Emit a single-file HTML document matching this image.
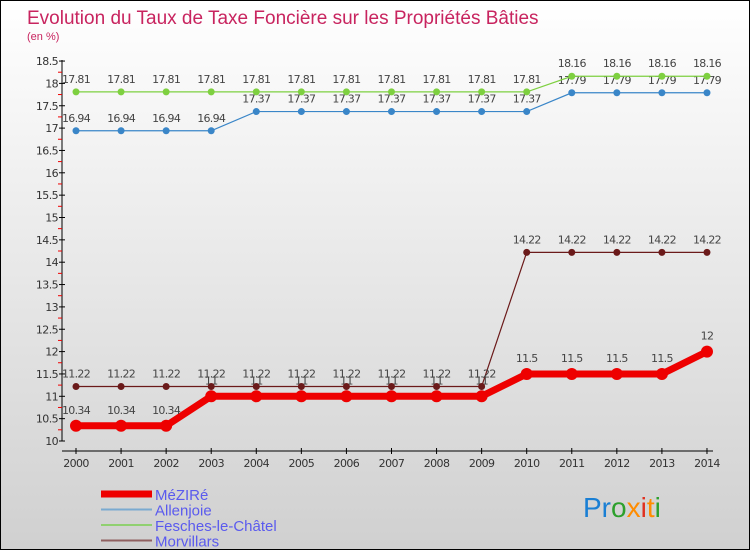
<!DOCTYPE html>
<html><head><meta charset="utf-8"><style>
body{margin:0;}
#c{width:748px;height:548px;border:1px solid #000;background:linear-gradient(#fff,#d0d0d0);position:relative;overflow:hidden;font-family:"DejaVu Sans","Liberation Sans",sans-serif;}
</style></head><body>
<div id="c">
<svg id="s" width="748" height="548">
<text x="26" y="23" font-size="19" fill="#c8245f" font-family="Liberation Sans,sans-serif">Evolution du Taux de Taxe Foncière sur les Propriétés Bâties</text>
<text x="26" y="39" font-size="11" fill="#c8245f" font-family="Liberation Sans,sans-serif">(en %)</text>
<g id="axes"></g><g id="series"></g><g id="legend"></g>
<g font-family="Liberation Sans,sans-serif" font-size="28">
<text x="582" y="516"><tspan fill="#1a7fd4">Pr</tspan><tspan fill="#2ca02c">o</tspan><tspan fill="#ff8c00">x</tspan><tspan fill="#e03020">i</tspan><tspan fill="#ff8c00">t</tspan><tspan fill="#2ca02c">i</tspan></text>
</g>
</svg>
</div>
<script>
const years=["2000","2001","2002","2003","2004","2005","2006","2007","2008","2009","2010","2011","2012","2013","2014"];
const yTicks=[10,10.5,11,11.5,12,12.5,13,13.5,14,14.5,15,15.5,16,16.5,17,17.5,18,18.5];
const mezire=[10.34,10.34,10.34,11,11,11,11,11,11,11,11.5,11.5,11.5,11.5,12];
const allenjoie=[16.94,16.94,16.94,16.94,17.37,17.37,17.37,17.37,17.37,17.37,17.37,17.79,17.79,17.79,17.79];
const fesches=[17.81,17.81,17.81,17.81,17.81,17.81,17.81,17.81,17.81,17.81,17.81,18.16,18.16,18.16,18.16];
const morvillars=[11.22,11.22,11.22,11.22,11.22,11.22,11.22,11.22,11.22,11.22,14.22,14.22,14.22,14.22,14.22];
const NS="http://www.w3.org/2000/svg";
const X=i=>75+i*45.07, Y=v=>440-(v-10)*44.7;
function mk(p,t,a){const e=document.createElementNS(NS,t);for(const k in a)e.setAttribute(k,a[k]);p.appendChild(e);return e;}
const ax=document.getElementById('axes');
const yl=mk(ax,'line',{x1:61,y1:59,x2:61,y2:440,stroke:'#000'});

const xl=mk(ax,'line',{x1:61,y1:450,x2:712,y2:450,stroke:'#000'});

yTicks.forEach(v=>{const y=Y(v);mk(ax,'line',{x1:58,y1:y,x2:64,y2:y,stroke:'#000'});
 if(v<18.5)mk(ax,'line',{x1:57,y1:y-11.2,x2:61,y2:y-11.2,stroke:'#e00'});
 const t=mk(ax,'text',{x:57,y:y+4,'font-size':11,'text-anchor':'end',fill:'#333','letter-spacing':'-0.6'});t.textContent=v;
 });
years.forEach((yr,i)=>{const x=X(i);mk(ax,'line',{x1:x,y1:447,x2:x,y2:453,stroke:'#000'});
 const t=mk(ax,'text',{x:x,y:466,'font-size':11,'text-anchor':'middle',fill:'#333','letter-spacing':'-0.6'});t.textContent=yr;
 });
const sg=document.getElementById('series');
function draw(name,data,color,lw,r,labelDy){
 const g=mk(sg,'g',{});
 mk(g,'polyline',{points:data.map((v,i)=>X(i)+','+Y(v)).join(' '),fill:'none',stroke:color,'stroke-width':lw});
 data.forEach((v,i)=>{const c=mk(g,'circle',{cx:X(i),cy:Y(v),r:r,fill:color});
  
  const t=mk(g,'text',{x:X(i),y:Y(v)+labelDy,'font-size':11,'text-anchor':'middle',fill:'#444','letter-spacing':'-0.7'});t.textContent=v;
  });
}
draw('mezire',mezire,'#ee0000',7,6,-12);
draw('morvillars',morvillars,'#6b1a1a',1.2,3.5,-9);
draw('allenjoie',allenjoie,'#3a86c8',1.2,3.5,-9);
draw('fesches',fesches,'#7ed040',1.2,3.5,-9);
const lg=document.getElementById('legend');
const items=[["MéZIRé","#ee0000",7],["Allenjoie","#7aaad0",2],["Fesches-le-Châtel","#90d070",2],["Morvillars","#906060",2]];
items.forEach((it,i)=>{const y=493+i*15.5;
 mk(lg,'line',{x1:100,y1:y,x2:151,y2:y,stroke:it[1],'stroke-width':it[2]});
 const t=mk(lg,'text',{x:154,y:y+6,'font-size':15,fill:'#5a5aee',font_family:'',}); t.textContent=it[0];
 t.setAttribute('font-family','Liberation Sans,sans-serif');
 });
</script>
</body></html>
